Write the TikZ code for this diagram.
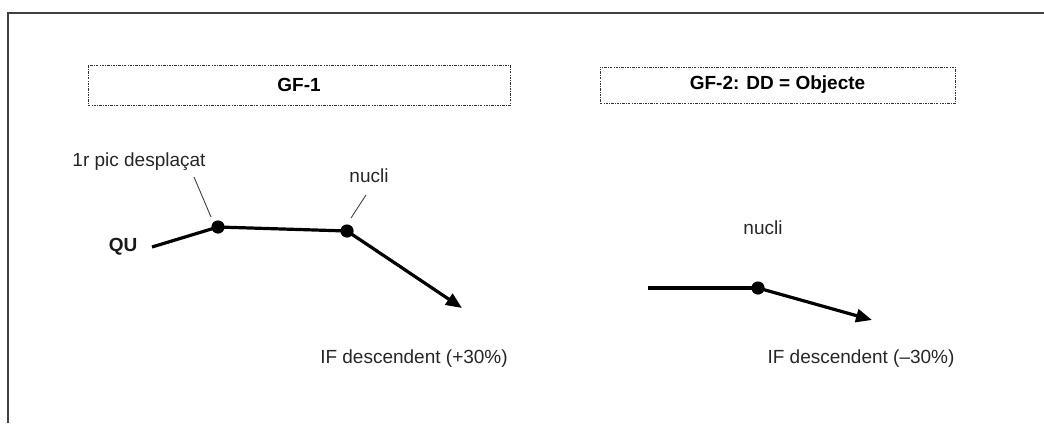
\documentclass[tikz,border=0pt]{standalone}
\usepackage{fontspec}
\setmainfont{Liberation Sans}
\usetikzlibrary{arrows.meta}
\begin{document}
\begin{tikzpicture}[x=0.5pt,y=-0.5pt,
  lbl/.style={font=\fontsize{9.5pt}{11pt}\selectfont, text=black!85, inner sep=0pt},
  blbl/.style={font=\fontsize{9.5pt}{11pt}\selectfont\bfseries, text=black!90, inner sep=0pt},
  titlebox/.style={draw=black!80, line width=0.5pt, dash pattern=on 1.2pt off 0.6pt on 0.4pt off 0.6pt, inner sep=0pt, font=\fontsize{9.5pt}{11pt}\selectfont\bfseries},
  dotnode/.style={circle, fill=black, inner sep=0pt, minimum size=6.6pt},
  pitch/.style={line width=1.6pt, black},
  pitcharrow/.style={pitch, -{Triangle[length=8pt,width=6.5pt]}},
  leader/.style={line width=0.45pt, black!75},
  frameline/.style={line width=0.8pt, black!75}]
\useasboundingbox (0,0) rectangle (1044,423);
% frame
\coordinate (fbl) at (8,423);
\coordinate (ftl) at (8,13);
\coordinate (ftr) at (1044,13);
\draw[frameline] (fbl) -- (ftl) -- (ftr);
% title boxes
\node[titlebox, minimum width=211pt, minimum height=20pt] (box1) at (299,85) {GF-1};
\node[titlebox, minimum width=177.5pt, minimum height=18pt] (box2) at (777.5,85) {GF-2: DD = Objecte};
% left contour
\node[blbl] (qu) at (123,247) {QU};
\coordinate (qstart) at (152,247);
\node[dotnode] (d1) at (218,227) {};
\node[dotnode] (d2) at (347,231) {};
\coordinate (tip1) at (462,308);
\draw[pitch] (qstart) -- (d1.center) -- (d2.center);
\draw[pitcharrow] (d2.center) -- (tip1);
\node[lbl] (pic) at (139,162) {1r pic desplaçat};
\node[lbl] (nuc1) at (369,176) {nucli};
\coordinate (l1a) at (194,177);
\coordinate (l1b) at (211,217);
\coordinate (l2a) at (366,195);
\coordinate (l2b) at (351,218);
\draw[leader] (l1a) -- (l1b);
\draw[leader] (l2a) -- (l2b);
\node[lbl] (if1) at (414,359) {IF descendent (+30\%)};
% right contour
\coordinate (rstart) at (648,288);
\node[dotnode] (d3) at (758,288) {};
\coordinate (tip2) at (872,320);
\draw[pitch] (rstart) -- (d3.center);
\draw[pitcharrow] (d3.center) -- (tip2);
\node[lbl] (nuc2) at (763,228) {nucli};
\node[lbl] (if2) at (861,359) {IF descendent (–30\%)};
\end{tikzpicture}
\end{document}
